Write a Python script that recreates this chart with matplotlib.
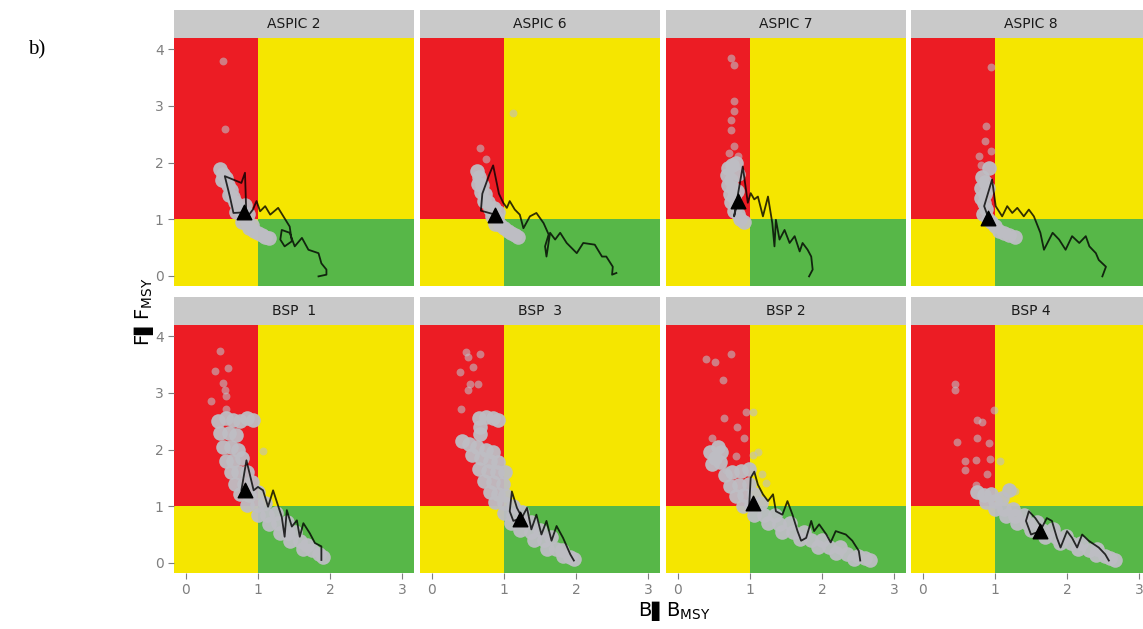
import numpy as np
import matplotlib.pyplot as plt
from matplotlib.patches import Rectangle

# panel titles, row by row
titles = ["ASPIC 2", "ASPIC 6", "ASPIC 7", "ASPIC 8",
          "BSP  1", "BSP  3", "BSP 2", "BSP 4"]

# isolated bootstrap points (B/Bmsy, F/Fmsy)
out_x = [
    [0.51, 0.54],
    [1.13, 0.67, 0.75],
    [0.74, 0.78, 0.78, 0.78, 0.74, 0.74, 0.78, 0.71, 0.83],
    [0.94, 0.88, 0.86, 0.94, 0.78, 0.80],
    [0.47, 0.40, 0.59, 0.52, 0.56, 0.35, 0.54, 0.56, 1.07],
    [0.48, 0.67, 0.50, 0.57, 0.39, 0.64, 0.53, 0.50, 0.41],
    [0.74, 0.39, 0.52, 0.62, 0.94, 1.04, 0.64, 0.82, 0.92, 0.48, 0.81, 1.04, 1.11, 0.67, 1.22, 1.17],
    [0.44, 0.44, 0.98, 0.75, 0.82, 0.47, 0.75, 0.92, 0.59, 0.73, 0.93, 1.07, 0.59, 0.89, 0.73, 1.28],
]
out_y = [
    [3.79, 2.60],
    [2.88, 2.26, 2.07],
    [3.85, 3.73, 3.09, 2.91, 2.76, 2.58, 2.29, 2.17, 2.11],
    [3.68, 2.65, 2.38, 2.20, 2.11, 1.96],
    [3.74, 3.39, 3.44, 3.18, 2.95, 2.86, 3.06, 2.71, 1.98],
    [3.72, 3.69, 3.63, 3.46, 3.37, 3.16, 3.16, 3.05, 2.72],
    [3.69, 3.60, 3.54, 3.22, 2.67, 2.67, 2.55, 2.40, 2.20, 2.20, 1.88, 1.91, 1.96, 1.64, 1.41, 1.56],
    [3.16, 3.05, 2.70, 2.52, 2.49, 2.14, 2.20, 2.11, 1.79, 1.82, 1.84, 1.79, 1.64, 1.56, 1.38, 1.26],
]

# dense part of the bootstrap cloud
cloud_x = [
    [0.48, 0.52, 0.50, 0.56, 0.58, 0.62, 0.60, 0.66, 0.68, 0.72, 0.70, 0.76, 0.80, 0.78, 0.85, 0.88,
     0.92, 0.95, 1.00, 1.05, 1.10, 1.15, 0.82, 0.86],
    [0.62, 0.66, 0.64, 0.70, 0.68, 0.74, 0.72, 0.78, 0.80, 0.86, 0.84, 0.90, 0.88, 0.95, 1.00, 1.05,
     1.10, 1.15, 1.20, 0.92],
    [0.70, 0.75, 0.68, 0.74, 0.70, 0.76, 0.72, 0.78, 0.74, 0.80, 0.78, 0.84, 0.86, 0.92, 0.82, 0.84, 0.80],
    [0.82, 0.86, 0.80, 0.86, 0.80, 0.85, 0.88, 0.84, 0.90, 0.95, 1.00, 1.05, 1.12, 1.20, 1.28, 0.92, 0.90],
    [0.45, 0.55, 0.65, 0.75, 0.85, 0.93, 0.60, 0.48, 0.70, 0.52, 0.62, 0.72, 0.55, 0.65, 0.78, 0.62,
     0.72, 0.85, 0.68, 0.80, 0.92, 0.75, 0.88, 1.00, 0.85, 0.98, 1.10, 1.00, 1.12, 1.25, 1.15, 1.28,
     1.40, 1.30, 1.42, 1.52, 1.45, 1.58, 1.68, 1.62, 1.75, 1.85, 1.90],
    [0.65, 0.75, 0.85, 0.92, 0.67, 0.67, 0.42, 0.52, 0.62, 0.75, 0.85, 0.55, 0.68, 0.80, 0.92, 0.65,
     0.78, 0.90, 0.72, 0.85, 0.98, 0.80, 0.92, 1.02, 0.88, 1.00, 1.12, 1.00, 1.12, 1.25, 1.10, 1.25,
     1.38, 1.22, 1.38, 1.50, 1.42, 1.55, 1.65, 1.60, 1.72, 1.80, 1.82, 1.92, 1.97, 1.02],
    [0.45, 0.52, 0.60, 0.48, 0.58, 0.55, 0.65, 0.75, 0.88, 0.98, 0.72, 0.85, 0.98, 0.80, 0.92, 1.05,
     0.90, 1.02, 1.15, 1.05, 1.20, 1.35, 1.25, 1.40, 1.55, 1.45, 1.60, 1.75, 1.70, 1.85, 2.00, 1.95,
     2.10, 2.25, 2.20, 2.35, 2.50, 2.45, 2.60, 2.66],
    [0.75, 0.85, 0.95, 0.88, 1.00, 1.10, 1.00, 1.12, 1.25, 1.15, 1.28, 1.40, 1.30, 1.45, 1.58, 1.50,
     1.65, 1.80, 1.70, 1.85, 1.98, 1.90, 2.05, 2.20, 2.15, 2.30, 2.42, 2.40, 2.52, 2.60, 2.66, 1.20],
]
cloud_y = [
    [1.88, 1.80, 1.70, 1.72, 1.60, 1.52, 1.42, 1.40, 1.30, 1.22, 1.12, 1.15, 1.05, 0.95, 0.95, 0.85,
     0.90, 0.80, 0.75, 0.72, 0.68, 0.66, 1.25, 1.10],
    [1.85, 1.75, 1.62, 1.60, 1.48, 1.45, 1.32, 1.30, 1.18, 1.20, 1.05, 1.02, 0.92, 0.90, 0.85, 0.80,
     0.76, 0.72, 0.68, 1.12],
    [1.90, 1.95, 1.78, 1.70, 1.60, 1.55, 1.45, 1.40, 1.30, 1.25, 1.15, 1.10, 1.00, 0.95, 1.50, 1.80, 2.00],
    [1.75, 1.65, 1.55, 1.45, 1.38, 1.28, 1.18, 1.10, 1.00, 0.95, 0.88, 0.80, 0.76, 0.72, 0.68, 1.90, 1.55],
    [2.50, 2.55, 2.52, 2.50, 2.55, 2.52, 2.30, 2.30, 2.25, 2.05, 2.05, 2.00, 1.80, 1.80, 1.85, 1.60,
     1.60, 1.60, 1.40, 1.40, 1.42, 1.22, 1.20, 1.25, 1.02, 1.02, 1.05, 0.85, 0.85, 0.88, 0.68, 0.70,
     0.72, 0.52, 0.52, 0.55, 0.38, 0.38, 0.32, 0.24, 0.22, 0.15, 0.10],
    [2.55, 2.58, 2.55, 2.52, 2.40, 2.28, 2.15, 2.10, 2.05, 2.00, 1.95, 1.90, 1.85, 1.80, 1.78, 1.65,
     1.62, 1.60, 1.45, 1.42, 1.40, 1.25, 1.22, 1.20, 1.08, 1.05, 1.00, 0.88, 0.85, 0.90, 0.70, 0.72,
     0.72, 0.58, 0.55, 0.58, 0.40, 0.40, 0.45, 0.25, 0.25, 0.22, 0.12, 0.10, 0.06, 1.60],
    [1.95, 1.85, 1.95, 1.75, 1.78, 2.05, 1.55, 1.60, 1.62, 1.65, 1.35, 1.38, 1.40, 1.18, 1.20, 1.22,
     1.00, 1.02, 1.05, 0.85, 0.85, 0.85, 0.70, 0.68, 0.70, 0.55, 0.55, 0.55, 0.42, 0.40, 0.40, 0.28,
     0.28, 0.28, 0.18, 0.16, 0.12, 0.06, 0.08, 0.05],
    [1.25, 1.20, 1.22, 1.08, 1.10, 1.15, 0.95, 0.95, 0.95, 0.82, 0.82, 0.85, 0.70, 0.70, 0.72, 0.58,
     0.58, 0.60, 0.45, 0.45, 0.48, 0.35, 0.35, 0.35, 0.25, 0.22, 0.25, 0.14, 0.12, 0.08, 0.05, 1.28],
]

# historical trajectory (first year -> last year)
traj_x = [
    [1.84, 1.95, 1.95, 1.88, 1.84, 1.70, 1.61, 1.51, 1.44, 1.33, 1.31, 1.37, 1.47, 1.44, 1.28, 1.17,
     1.10, 1.03, 0.98, 0.93, 0.84, 0.82, 0.77, 0.54, 0.61, 0.66, 0.80],
    [2.56, 2.50, 2.51, 2.42, 2.36, 2.26, 2.10, 2.01, 1.87, 1.78, 1.71, 1.64, 1.59, 1.57, 1.62, 1.55,
     1.45, 1.36, 1.27, 1.22, 1.15, 1.08, 1.04, 0.99, 0.93, 0.85, 0.80, 0.70, 0.68, 0.88],
    [1.82, 1.87, 1.85, 1.80, 1.73, 1.69, 1.62, 1.55, 1.48, 1.41, 1.36, 1.34, 1.31, 1.25, 1.18, 1.11,
     1.06, 1.01, 0.97, 0.90, 0.78, 0.83],
    [2.49, 2.54, 2.44, 2.40, 2.31, 2.26, 2.17, 2.07, 1.98, 1.89, 1.80, 1.68, 1.63, 1.54, 1.47, 1.40,
     1.31, 1.24, 1.17, 1.10, 1.01, 0.96, 0.85, 0.91],
    [1.88, 1.88, 1.79, 1.72, 1.63, 1.58, 1.54, 1.47, 1.40, 1.37, 1.33, 1.21, 1.14, 1.07, 1.00, 0.94,
     0.84, 0.77, 0.82, 0.82],
    [1.97, 1.92, 1.82, 1.73, 1.66, 1.59, 1.52, 1.45, 1.38, 1.32, 1.25, 1.18, 1.11, 1.08, 1.13, 1.22],
    [2.53, 2.51, 2.42, 2.33, 2.19, 2.12, 2.06, 1.96, 1.89, 1.85, 1.78, 1.71, 1.66, 1.59, 1.52, 1.45,
     1.36, 1.32, 1.25, 1.18, 1.11, 1.06, 1.01, 0.99, 1.04],
    [2.58, 2.53, 2.44, 2.30, 2.21, 2.14, 2.07, 2.00, 1.91, 1.86, 1.79, 1.72, 1.65, 1.56, 1.47, 1.43,
     1.50, 1.63],
]
traj_y = [
    [-0.01, 0.02, 0.11, 0.22, 0.40, 0.46, 0.67, 0.52, 0.76, 0.81, 0.64, 0.52, 0.61, 0.87, 1.20, 1.08,
     1.23, 1.14, 1.32, 1.17, 1.02, 1.82, 1.64, 1.76, 1.40, 1.11, 1.12],
    [0.05, 0.02, 0.16, 0.34, 0.34, 0.55, 0.58, 0.40, 0.58, 0.76, 0.64, 0.76, 0.34, 0.52, 0.73, 0.93,
     1.11, 1.05, 0.84, 1.08, 1.17, 1.32, 1.20, 1.29, 1.45, 1.95, 1.80, 1.45, 1.15, 1.08],
    [-0.01, 0.11, 0.34, 0.46, 0.58, 0.43, 0.70, 0.58, 0.81, 0.64, 0.99, 0.52, 0.93, 1.40, 1.05, 1.40,
     1.35, 1.46, 1.29, 1.93, 1.05, 1.32],
    [-0.01, 0.16, 0.28, 0.40, 0.52, 0.70, 0.58, 0.70, 0.46, 0.64, 0.76, 0.46, 0.76, 1.05, 1.17, 1.05,
     1.20, 1.11, 1.23, 1.05, 1.23, 1.70, 1.23, 1.02],
    [0.05, 0.29, 0.35, 0.52, 0.70, 0.46, 0.75, 0.64, 0.93, 0.46, 0.81, 1.28, 0.99, 1.28, 1.34, 1.28,
     1.81, 1.28, 1.16, 1.28],
    [0.04, 0.15, 0.44, 0.65, 0.39, 0.74, 0.50, 0.85, 0.59, 0.97, 0.80, 0.97, 1.26, 0.91, 0.74, 0.78],
    [0.04, 0.21, 0.39, 0.50, 0.56, 0.36, 0.50, 0.68, 0.56, 0.74, 0.44, 0.39, 0.56, 0.85, 1.09, 0.85,
     0.91, 1.21, 1.09, 1.21, 1.38, 1.61, 1.50, 1.03, 1.06],
    [0.04, 0.15, 0.27, 0.39, 0.50, 0.27, 0.44, 0.56, 0.27, 0.44, 0.74, 0.79, 0.62, 0.79, 0.91, 0.74,
     0.50, 0.56],
]

# current status (triangle)
now_x = [0.80, 0.88, 0.83, 0.91, 0.82, 1.22, 1.04, 1.63]
now_y = [1.12, 1.08, 1.32, 1.02, 1.28, 0.78, 1.06, 0.56]

red = "#EC1C24"
yellow = "#F5E600"
green = "#57B748"
strip_col = "#C9C9C9"
pt_col = "#BEBEC4"
tick_col = "#7F7F7F"

W, H = 1143, 629
fig = plt.figure(figsize=(W / 100, H / 100), dpi=100)

col_left = [174, 420, 666, 911]
row_top = [38, 325]
pw, ph, sh = 240, 248, 28

xlim = (-0.165, 3.165)
ylim = (-0.18, 4.2)

for i, title in enumerate(titles):
    r, c = divmod(i, 4)
    x0 = col_left[c] / W
    y0 = 1 - (row_top[r] + ph) / H
    ax = fig.add_axes([x0, y0, pw / W, ph / H])

    # stock status zones
    ax.add_patch(Rectangle((-1, 1), 2, 10, color=red, lw=0, zorder=0))
    ax.add_patch(Rectangle((-1, -1), 2, 2, color=yellow, lw=0, zorder=0))
    ax.add_patch(Rectangle((1, 1), 10, 10, color=yellow, lw=0, zorder=0))
    ax.add_patch(Rectangle((1, -1), 10, 2, color=green, lw=0, zorder=0))

    ax.scatter(cloud_x[i], cloud_y[i], s=110, color=pt_col, alpha=0.95, lw=0, zorder=2)
    ax.scatter(out_x[i], out_y[i], s=32, color=pt_col, alpha=0.6, lw=0, zorder=2)
    ax.plot(traj_x[i], traj_y[i], color="black", lw=1.3, alpha=0.8, zorder=3)
    ax.scatter([now_x[i]], [now_y[i]], marker="^", s=110, color="black", zorder=4)

    ax.set_xlim(*xlim)
    ax.set_ylim(*ylim)
    ax.set_xticks([0, 1, 2, 3])
    ax.set_yticks([0, 1, 2, 3, 4])
    for s in ax.spines.values():
        s.set_visible(False)
    ax.tick_params(colors=tick_col, labelcolor=tick_col, labelsize=10, length=4, width=0.8)
    if r == 0:
        ax.tick_params(axis="x", length=0, labelbottom=False)
    if c != 0:
        ax.tick_params(axis="y", length=0, labelleft=False)

    # facet strip
    sa = fig.add_axes([x0, 1 - row_top[r] / H, pw / W, sh / H])
    sa.set_facecolor(strip_col)
    sa.set_xticks([])
    sa.set_yticks([])
    for s in sa.spines.values():
        s.set_visible(False)
    sa.text(0.5, 0.5, title, ha="center", va="center", fontsize=10, color="#1A1A1A",
            transform=sa.transAxes)

fig.text(0.126, 0.505, "F\u258cF$_{\\mathrm{MSY}}$", rotation=90, ha="center", va="center",
         fontsize=14)
fig.text(0.59, 0.028, "B\u258cB$_{\\mathrm{MSY}}$", ha="center", va="center", fontsize=14)
fig.text(0.032, 0.92, "b)", ha="center", va="center", fontsize=15, family="Liberation Serif")

plt.savefig("out.png", dpi=100)
